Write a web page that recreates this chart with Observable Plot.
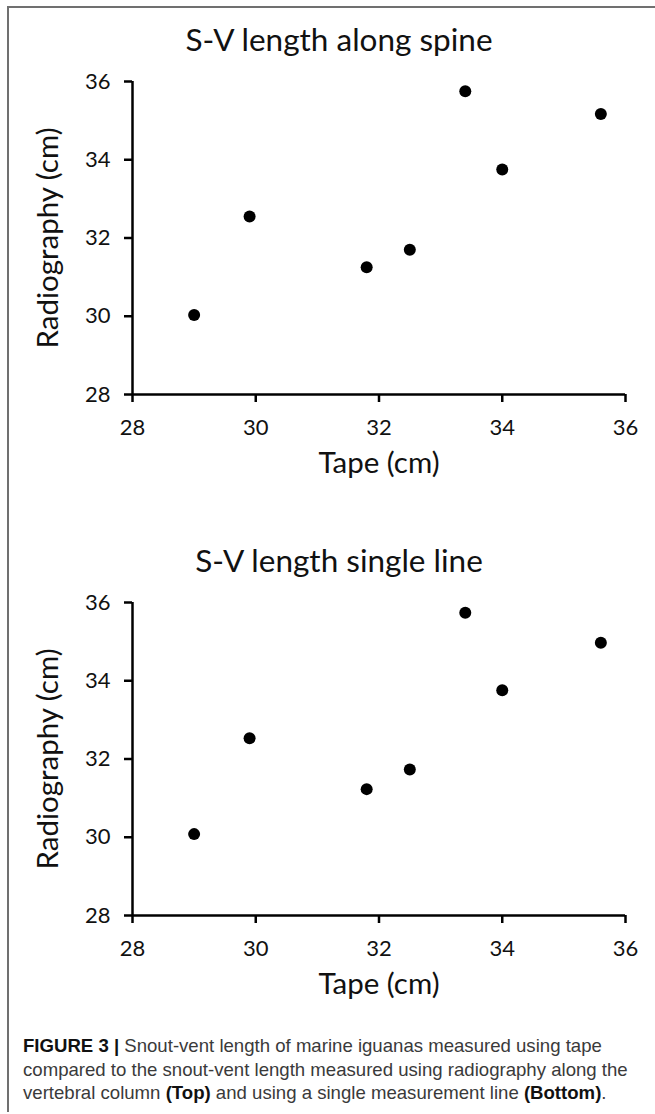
<!DOCTYPE html>
<html>
<head>
<meta charset="utf-8">
<script src="https://cdn.jsdelivr.net/npm/d3@7"></script>
<script src="https://cdn.jsdelivr.net/npm/@observablehq/plot@0.6"></script>
<style>
  html, body { margin: 0; padding: 0; background: #fff; }
  #frame { position: absolute; left: 7px; top: 6px; width: 648px; height: 1106px;
           border-left: 2px solid #707070; border-top: 2px solid #707070; box-sizing: border-box; }
  .panel { position: absolute; left: 0; }
  #caption { position: absolute; left: 23px; top: 1034px; white-space: nowrap;
             font-family: "Liberation Sans", Arial, sans-serif; font-size: 18.6px; line-height: 23.5px; color: #3a3a3a; }
  #caption b { color: #111; }
</style>
</head>
<body>
<div id="frame"></div>
<div id="top" class="panel" style="top:0px"></div>
<div id="bottom" class="panel" style="top:521px"></div>
<div id="caption"><b>FIGURE 3 |</b> Snout-vent length of marine iguanas measured using tape<br>compared to the snout-vent length measured using radiography along the<br>vertebral column <b>(Top)</b> and using a single measurement line <b>(Bottom)</b>.</div>
<script>
// Data
const tape = [29.0, 29.9, 31.8, 32.5, 33.4, 34.0, 35.6];
const spine = [30.03, 32.55, 31.25, 31.70, 35.75, 33.75, 35.17];
const singleLine = [30.08, 32.53, 31.23, 31.73, 35.74, 33.76, 34.97];
const axisTicks = [28, 30, 32, 34, 36];
const titles = ["S-V length along spine", "S-V length single line"];
const xLabel = "Tape (cm)";
const yLabel = "Radiography (cm)";

const font = "Lato, 'Open Sans', sans-serif";

function panel(values, title) {
  const data = tape.map((t, i) => ({tape: t, radio: values[i]}));
  return Plot.plot({
    width: 655,
    height: 521,
    marginLeft: 132,
    marginRight: 30,
    marginTop: 81,
    marginBottom: 127,
    style: {fontFamily: font, color: "#000", background: "transparent", overflow: "visible"},
    x: {domain: [28, 36]},
    y: {domain: [28, 36]},
    marks: [
      Plot.axisX({ticks: axisTicks, tickSize: 8, tickPadding: 17, tickFormat: d => String(d),
                  label: null, fontSize: 22, strokeWidth: 2.5, fill: "#111"}),
      Plot.axisY({ticks: axisTicks, tickSize: 8, tickPadding: 14, tickFormat: d => String(d),
                  label: null, fontSize: 22, strokeWidth: 2.5, fill: "#111"}),
      Plot.ruleY([28], {stroke: "#000", strokeWidth: 2.5}),
      Plot.ruleX([28], {stroke: "#000", strokeWidth: 2.5}),
      Plot.dot(data, {x: "tape", y: "radio", r: 6, fill: "#000", stroke: null}),
      Plot.text([title], {frameAnchor: "top", dx: -40, dy: -53, fontSize: 31.5, fill: "#111"}),
      Plot.text([xLabel], {frameAnchor: "bottom", dy: 78, fontSize: 29.5, fill: "#111"}),
      Plot.text([yLabel], {frameAnchor: "left", textAnchor: "middle", dx: -84, rotate: -90, fontSize: 29.5, fill: "#111"})
    ]
  });
}

document.getElementById("top").appendChild(panel(spine, titles[0]));
document.getElementById("bottom").appendChild(panel(singleLine, titles[1]));
</script>
</body>
</html>
